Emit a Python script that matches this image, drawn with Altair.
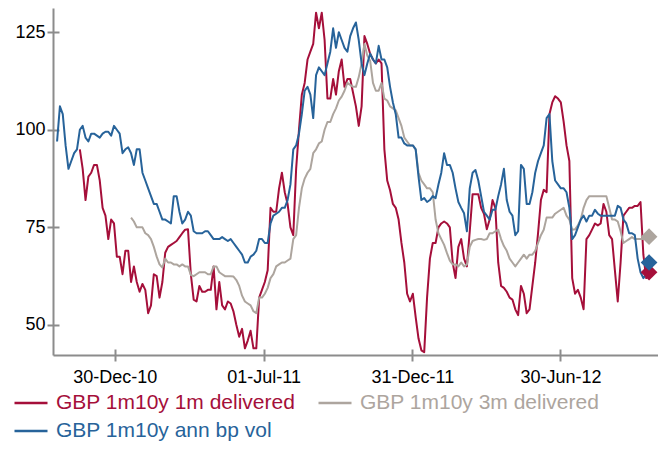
import altair as alt
import pandas as pd

# observation dates: weekly points plus a mid-week point in between
dates = pd.date_range("2010-10-20", periods=105, freq="7D")
mid_dates = [d + pd.Timedelta(hours=84) for d in dates[:-1]]

names = ["GBP 1m10y 1m delivered", "GBP 1m10y 3m delivered", "GBP 1m10y ann bp vol"]
colors = ["#a50f3a", "#ada59e", "#27639a"]
# legend fills column by column: red, blue in the first column, gray in the second
legend_order = [names[0], names[2], names[1]]
legend_colors = [colors[0], colors[2], colors[1]]

red = [None] * 4 + [
    95, 82, 89, 91, 80, 72, 76, 67.5, 69, 61,
    61, 60.5, 53, 63, 57, 68.5, 70.5, 71.5, 73.5, 74.5,
    56.5, 60, 58.5, 59, 54, 55, 56, 53.4, 47, 44,
    48.5, 44, 59, 64, 79, 85, 84, 75, 90, 109,
    118, 122, 126, 123, 108, 109, 118, 113, 109.5, 101,
    124, 119.5, 117, 117, 87, 81, 77, 66, 56, 52,
    43.5, 57, 71, 75, 76.5, 75, 62, 72, 65, 83.5,
    83.5, 78.5, 77, 80, 60, 58.5, 56.5, 52.5, 58, 54,
    66, 82, 84, 107, 108, 102, 92, 58, 57, 72,
    74.5, 75.5, 81, 73, 64, 66, 79, 80, 80.5, 68,
    63.5,
]
red_mid = [None] * 4 + [
    90, 88, 91, 87, 78, 77, 67.5, 63, 69, 65,
    58.5, 59, 55, 62.5, 61, 70, 71, 72.5, 74.4, 63,
    56, 58.5, 59, 65, 61, 54, 55.5, 50, 49, 46,
    44, 57, 61, 80, 79, 89, 81, 73, 100, 112,
    120, 130, 130, 108, 113, 115, 111, 113, 106, 106,
    122, 118, 118, 95, 84.5, 80, 71, 58, 58, 46.5,
    43, 67, 71, 76, 76, 66, 70, 67, 74, 83.5,
    80, 74.5, 82, 66, 59.5, 57, 54, 60, 53, 60,
    73.5, 84.6, 104, 108.6, 107, 96, 62, 59, 54, 73,
    76, 76, 79, 72, 56, 78, 80, 80.5, 81.5, 62,
]

gray = [None] * 13 + [
    77.5, 75, 75, 73, 70, 65.5, 67, 66, 65.5, 65.5,
    65, 62.5, 63.5, 63.5, 63, 65, 63, 62.5, 62.4, 60,
    56, 55, 53, 57, 59.5, 63, 65.5, 66, 67, 73,
    85, 89, 94, 96.5, 100, 102, 105.5, 108.5, 112, 111,
    113.5, 122, 117.7, 110, 112, 107.5, 105.5, 103, 98, 96,
    95, 87, 85, 84, 73.5, 70.5, 66.5, 65.5, 66, 65.5,
    71.5, 72, 71.8, 73.5, 74, 72, 69, 66, 66, 68,
    68, 69, 73, 77.5, 77.5, 79, 80, 77, 74.5, 77,
    82, 83, 83, 83, 80, 77, 74, 71.5, 72.5, 72,
    72, 72.6,
]
gray_mid = [None] * 13 + [
    76.5, 75, 73.5, 72, 67.5, 64.7, 66, 65.5, 65, 65,
    62.8, 63, 63.5, 63, 65, 63.5, 62.5, 62.5, 61.5, 57.5,
    55.5, 53.5, 57, 58, 62, 65, 66, 66.5, 72, 80,
    87.5, 90, 95, 97, 102, 104, 107.5, 110, 111.5, 111,
    117, 119, 112, 110, 108, 106, 105, 101, 97, 96,
    89, 86, 85, 77, 72, 68.4, 65.5, 65, 65, 70,
    71.8, 72, 72, 73.5, 74.4, 70.2, 67, 65, 67, 67,
    68, 71, 74.4, 77.5, 78.5, 79.5, 78, 74.4, 75.5, 80,
    83, 83, 83, 83, 77, 76.5, 71, 72, 72, 72, 72,
]

blue = [
    97, 104, 90, 94, 100, 98, 99, 98.5, 99, 99.5,
    101, 99, 95, 94, 95, 89, 85, 81, 79, 77,
    76, 83, 76, 79, 74, 73.5, 74, 73, 72, 72.5,
    71.5, 71, 69, 66, 67.5, 69, 72, 71, 78, 79,
    80, 86, 96, 104, 111, 103, 116, 114, 120, 121,
    123, 120, 126, 123, 114, 119.5, 117, 118, 116, 107,
    98, 96.5, 96, 95, 82, 81.5, 83, 86, 94, 91,
    85, 80, 74, 89, 87, 79, 77, 79.5, 86, 82,
    78, 74, 90, 81, 89, 94, 103, 92, 86, 85,
    80, 73, 77, 76.5, 78, 78.5, 78, 78, 78, 80,
    76, 73.5, 67, 62, 66,
]
blue_mid = [
    106, 96, 92, 95, 101, 97, 99, 98, 99.5, 98.5,
    100, 94, 95.5, 91, 95, 87, 83, 81, 77, 76.5,
    83, 79, 77, 78, 73.5, 73.5, 74, 72, 72, 72,
    72, 70, 68, 66, 68, 72, 71, 76, 78.5, 80,
    82, 95, 99, 110, 109, 114, 115, 117, 126, 125,
    121, 124, 127.5, 117, 117, 118, 121.5, 118, 111, 104,
    98, 96, 96, 88, 82.5, 82, 82.5, 89, 91, 89,
    81.5, 78.6, 85, 89.7, 83, 78, 79.5, 83, 90, 79,
    73, 91, 81, 84, 92, 96, 104, 87, 85, 84,
    72, 75, 78, 78, 79.5, 78, 78, 78, 80.5, 77,
    73.5, 73, 63.5, 63,
]

y_ticks = [50, 75, 100, 125]
x_ticks = [
    alt.DateTime(year=2010, month=12, date=30),
    alt.DateTime(year=2011, month=7, date=1),
    alt.DateTime(year=2011, month=12, date=31),
    alt.DateTime(year=2012, month=6, date=30),
]

rows = []
for name, vals, mids in zip(names, [red, gray, blue], [red_mid, gray_mid, blue_mid]):
    pts = []
    for d, v in zip(dates, vals):
        if v is not None:
            pts.append((d, v))
    for d, v in zip(mid_dates, mids):
        if v is not None:
            pts.append((d, v))
    pts.sort(key=lambda p: p[0])
    for d, v in pts:
        rows.append({"date": d, "value": v, "series": name})
df = pd.DataFrame(rows)

last_rows = []
for name, vals in zip(names, [red, gray, blue]):
    last_rows.append({"date": dates[len(vals) - 1], "value": vals[-1], "series": name})
df_last = pd.DataFrame(last_rows)

FONT = "Liberation Sans"
AX = "#8c8c8c"

x_scale = alt.Scale(domain=[alt.DateTime(year=2010, month=10, date=15),
                            alt.DateTime(year=2012, month=10, date=28)], nice=False)
y_scale = alt.Scale(domain=[42.3, 131.2], nice=False, zero=False)
color_scale = alt.Scale(domain=legend_order, range=legend_colors)

lines = alt.Chart(df).mark_line(strokeWidth=2, strokeJoin="round").encode(
    x=alt.X("date:T", scale=x_scale,
            axis=alt.Axis(orient="bottom", values=x_ticks, format="%d-%b-%y", title=None,
                          grid=False, labelFont=FONT, labelFontSize=18, labelColor="black",
                          domainColor=AX, domainWidth=2, tickColor=AX, tickWidth=2,
                          tickSize=6, labelPadding=7, labelFlush=False, labelOverlap=False)),
    y=alt.Y("value:Q", scale=y_scale,
            axis=alt.Axis(orient="left", values=y_ticks, title=None, grid=False,
                          labelFont=FONT, labelFontSize=18, labelColor="black",
                          domainColor=AX, domainWidth=2, tickColor=AX, tickWidth=2,
                          tickSize=6, labelPadding=2)),
    color=alt.Color("series:N", scale=color_scale,
                    legend=alt.Legend(orient="none", legendX=-40, legendY=377, columns=2,
                                      title=None, symbolType="stroke", symbolSize=1089,
                                      symbolStrokeWidth=2.5, labelFont=FONT, labelFontSize=21,
                                      labelColor={"expr": "scale('color', datum.value)"},
                                      labelOffset=7, labelLimit=400, columnPadding=17,
                                      rowPadding=0, padding=0)),
)

points = alt.Chart(df_last).mark_point(shape="diamond", filled=True, size=280, opacity=1).encode(
    x=alt.X("date:T", scale=x_scale,
            axis=alt.Axis(orient="bottom", values=x_ticks, labels=False, domain=False,
                          grid=False, title=None, tickColor=AX, tickWidth=2, tickSize=6,
                          offset=-6)),
    y=alt.Y("value:Q", scale=y_scale,
            axis=alt.Axis(orient="left", values=y_ticks, labels=False, domain=False,
                          grid=False, title=None, tickColor=AX, tickWidth=2, tickSize=6,
                          offset=-6)),
    color=alt.Color("series:N", scale=color_scale, legend=None),
)

chart = alt.layer(lines, points).resolve_axis(x="independent", y="independent").properties(
    width=605, height=347,
    autosize=alt.AutoSizeParams(type="none"),
    padding={"left": 45, "top": 0, "right": 0, "bottom": 86},
).configure_view(stroke=None)

chart.save("out.html", embed_options={"renderer": "svg", "actions": False})
